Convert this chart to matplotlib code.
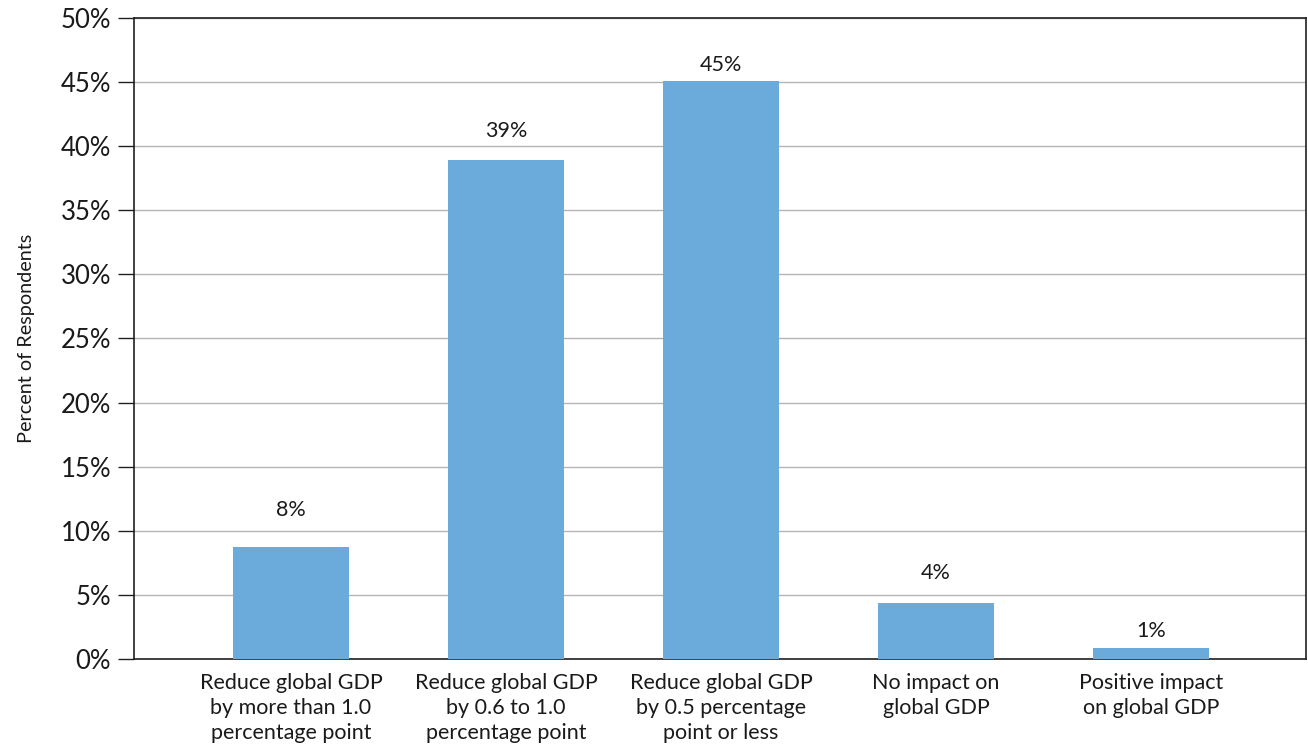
import matplotlib
matplotlib.use("Agg")
import matplotlib.pyplot as plt
from matplotlib.ticker import PercentFormatter

# Data
categories = [
    "Reduce global GDP\nby more than 1.0\npercentage point",
    "Reduce global GDP\nby 0.6 to 1.0\npercentage point",
    "Reduce global GDP\nby 0.5 percentage\npoint or less",
    "No impact on\nglobal GDP",
    "Positive impact\non global GDP",
]
values = [8.7, 38.9, 45.1, 4.4, 0.85]
value_labels = ["8%", "39%", "45%", "4%", "1%"]
yticks = [0, 5, 10, 15, 20, 25, 30, 35, 40, 45, 50]

# label gap above bars (points), as in the original
label_pad = [20, 14, 4, 14, 5]

plt.rcParams["font.family"] = ["Lato", "DejaVu Sans"]

fig = plt.figure(figsize=(13.08, 7.46), dpi=100)
ax = fig.add_axes([0.1024, 0.1166, 0.8961, 0.8593])

x = range(len(categories))
ax.bar(x, values, width=0.54, color="#6aabdb", zorder=3)

for i, (v, lab) in enumerate(zip(values, value_labels)):
    ax.annotate(lab, (i, v), xytext=(0, label_pad[i]), textcoords="offset points",
                ha="center", va="bottom", fontsize=15.5, color="#1a1a1a")

ax.set_xlim(-0.73, 4.72)
ax.set_ylim(0, 50)
ax.set_yticks(yticks)
ax.yaxis.set_major_formatter(PercentFormatter(decimals=0))
ax.set_xticks(list(x))
ax.set_xticklabels(categories, fontsize=15.5, color="#1a1a1a", linespacing=1.3)
ax.tick_params(axis="x", length=0, pad=10)
ax.tick_params(axis="y", length=11.5, width=1, color="#231f20", labelsize=18.5,
               labelcolor="#1a1a1a", pad=5)

ax.yaxis.grid(True, color="#b4b4b4", linewidth=1.0, zorder=0)
for s in ax.spines.values():
    s.set_color("#231f20")
    s.set_linewidth(1.2)

ax.set_ylabel("Percent of Respondents", fontsize=14.3, color="#1a1a1a", labelpad=18)

fig.savefig("out.png", dpi=100)
